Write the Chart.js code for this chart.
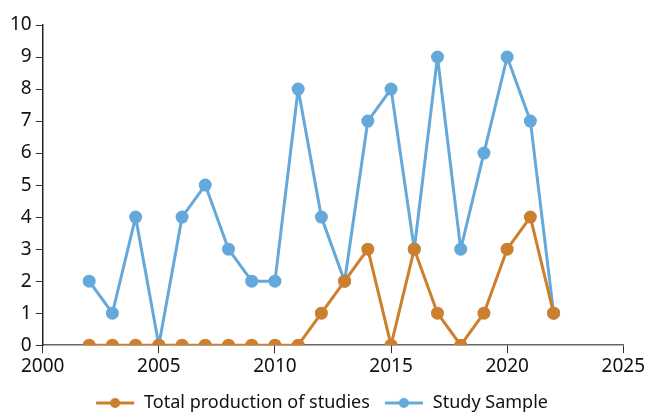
<!DOCTYPE html>
<html>
<head>
<meta charset="utf-8">
<script src="https://cdn.jsdelivr.net/npm/chart.js@4"></script>
<style>
  html, body { margin: 0; padding: 0; background: #fff; }
  #wrap { width: 647px; height: 414px; }
</style>
</head>
<body>
<div id="wrap"><canvas id="chart" width="647" height="414"></canvas></div>
<script>
// values
const years = [2002, 2003, 2004, 2005, 2006, 2007, 2008, 2009, 2010, 2011, 2012,
  2013, 2014, 2015, 2016, 2017, 2018, 2019, 2020, 2021, 2022];
const totalProduction = [0, 0, 0, 0, 0, 0, 0, 0, 0, 0, 1, 2, 3, 0, 3, 1, 0, 1, 3, 4, 1];
const studySample = [2, 1, 4, 0, 4, 5, 3, 2, 2, 8, 4, 2, 7, 8, 3, 9, 3, 6, 9, 7, 1];
const seriesNames = ["Total production of studies", "Study Sample"];
const xTicks = [2000, 2005, 2010, 2015, 2020, 2025];

const ORANGE = "#cc7f2e";
const BLUE = "#64a9da";
const FONT = "'Noto Sans', sans-serif";

// legend marker: a short line with a dot in the middle
const legendIcon = (color) => {
  const c = document.createElement("canvas");
  c.width = 40;
  c.height = 12;
  const g = c.getContext("2d");
  g.strokeStyle = color;
  g.lineWidth = 3;
  g.beginPath();
  g.moveTo(1, 6);
  g.lineTo(39, 6);
  g.stroke();
  g.fillStyle = color;
  g.beginPath();
  g.arc(20, 6, 5, 0, Math.PI * 2);
  g.fill();
  return c;
};

// legend keeps its wide item spacing but takes less height
const tightLegend = {
  id: "tightLegend",
  beforeInit(chart) {
    const fit = chart.legend.fit;
    chart.legend.fit = function () {
      fit.bind(chart.legend)();
      this.height -= 8;
    };
  },
};

const toPoints = (vals) => vals.map((v, i) => ({ x: years[i], y: v }));

const ctx = document.getElementById("chart").getContext("2d");
new Chart(ctx, {
  type: "line",
  data: {
    datasets: [
      {
        label: seriesNames[0],
        data: toPoints(totalProduction),
        borderColor: ORANGE,
        backgroundColor: ORANGE,
        borderWidth: 3,
        borderJoinStyle: "round",
        pointRadius: 5,
        pointHoverRadius: 5,
        tension: 0,
      },
      {
        label: seriesNames[1],
        data: toPoints(studySample),
        borderColor: BLUE,
        backgroundColor: BLUE,
        borderWidth: 3,
        borderJoinStyle: "round",
        pointRadius: 5,
        pointHoverRadius: 5,
        tension: 0,
      },
    ],
  },
  options: {
    responsive: false,
    animation: false,
    layout: { padding: { top: 25, right: 10, left: 6, bottom: 0 } },
    plugins: {
      tooltip: { enabled: false },
      legend: {
        position: "bottom",
        labels: {
          usePointStyle: true,
          pointStyleWidth: 40,
          boxHeight: 12,
          padding: 14,
          color: "#111",
          font: { family: FONT, size: 18 },
          generateLabels: (chart) =>
            chart.data.datasets.map((ds, i) => ({
              text: ds.label,
              pointStyle: legendIcon(ds.borderColor),
              fillStyle: ds.borderColor,
              strokeStyle: ds.borderColor,
              lineWidth: 0,
              fontColor: "#111",
              hidden: false,
              datasetIndex: i,
            })),
        },
      },
    },
    scales: {
      x: {
        type: "linear",
        min: xTicks[0],
        max: xTicks[xTicks.length - 1],
        z: 1,
        afterBuildTicks: (axis) => {
          axis.ticks = xTicks.map((v) => ({ value: v }));
        },
        ticks: {
          color: "#111",
          font: { family: FONT, size: 19 },
          padding: 2,
          maxRotation: 0,
          callback: (v) => String(v),
        },
        grid: {
          drawOnChartArea: false,
          drawTicks: true,
          tickLength: 8,
          color: "#333",
        },
        border: { display: true, color: "#666", width: 1.5 },
      },
      y: {
        min: 0,
        max: 10,
        ticks: {
          stepSize: 1,
          color: "#111",
          font: { family: FONT, size: 19 },
          padding: 4,
        },
        grid: {
          drawOnChartArea: false,
          drawTicks: true,
          tickLength: 7,
          color: "#333",
        },
        border: { display: true, color: "#222", width: 1.5 },
      },
    },
  },
  plugins: [tightLegend],
});
</script>
</body>
</html>
